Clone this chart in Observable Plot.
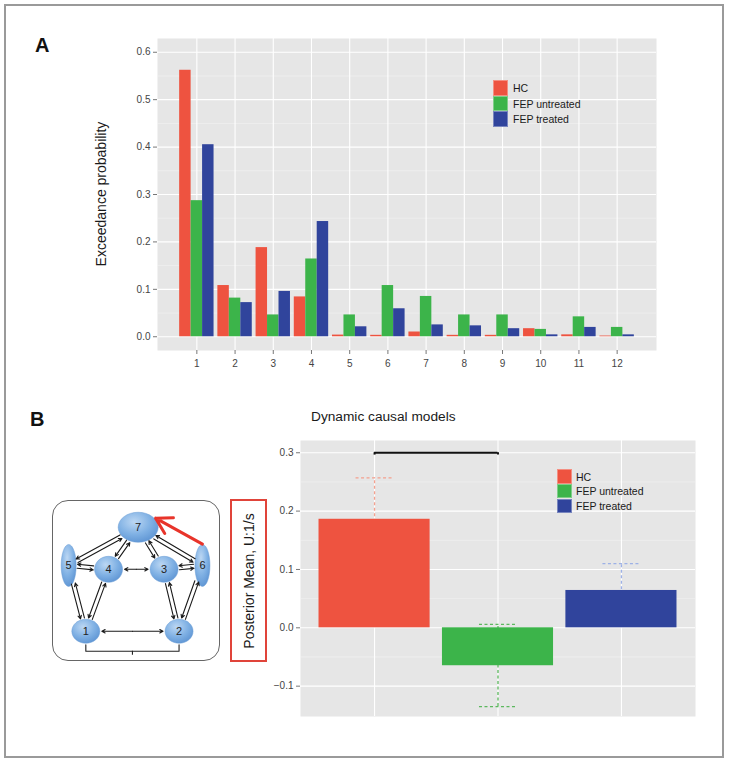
<!DOCTYPE html>
<html><head><meta charset="utf-8">
<script src="https://cdn.jsdelivr.net/npm/d3@7"></script>
<script src="https://cdn.jsdelivr.net/npm/@observablehq/plot@0.6"></script>
<style>
body{margin:0;background:#fff;font-family:"Liberation Sans",Arial,Helvetica,sans-serif;}
#fig{position:relative;width:730px;height:764px;overflow:hidden;background:#fff;}
.abs{position:absolute;white-space:nowrap;}
.key{position:absolute;box-sizing:border-box;border:1px solid rgba(255,255,255,0.35);}
.lt{position:absolute;font-size:10.5px;line-height:12px;color:#1a1a1a;white-space:nowrap;}
svg{overflow:visible;}
</style></head><body><div id="fig"></div>
<script>
// ---------- data ----------
const models = [1,2,3,4,5,6,7,8,9,10,11,12];
const groups = ["HC","FEP untreated","FEP treated"];
const groupColors = ["#ee5340","#3cb44a","#30449c"];
const errorColors = ["#f4a08e","#5cb85e","#9db1e6"];
const hcEP        = [0.562,0.108,0.188,0.084,0.0035,0.003,0.010,0.003,0.003,0.017,0.004,0.0015];
const untreatedEP = [0.287,0.0815,0.046,0.164,0.046,0.108,0.085,0.046,0.046,0.0155,0.042,0.0197];
const treatedEP   = [0.405,0.072,0.0956,0.243,0.021,0.059,0.025,0.023,0.017,0.004,0.0197,0.004];
const yTicksA = [0,0.1,0.2,0.3,0.4,0.5,0.6];

const dcmMean  = [0.186,-0.065,0.064];
const dcmUpper = [0.257,0.006,0.110];
const dcmLower = [0.115,-0.135,0.018];
const yTicksB = [-0.1,0,0.1,0.2,0.3];
const sigPairs = [{from:1,to:2,level:0.3}];

const nodeIds = [7,4,3,5,6,1,2];
const nodeX   = [50.9,33.3,66.3,9.6,89.1,19.8,75.2];
const nodeY   = [15.9,40.9,40.9,38.6,38.6,77.7,77.7];
const nodeKind= ["top","round","round","tall","tall","low","low"];
const reciprocal = [[7,5],[7,4],[7,3],[7,6],[5,4],[6,3],[5,1],[4,1],[3,2],[6,2]];
const lateral = [[4,3],[1,2]];
const modulated = [[6,7]];

// ---------- helpers ----------
const fig = document.getElementById("fig");
const FONT = '"Liberation Sans",Arial,Helvetica,sans-serif';
function place(el, left, top){ el.style.position="absolute"; el.style.left=left+"px"; el.style.top=top+"px"; fig.appendChild(el); return el; }
function text(str, left, top, css){ const d=document.createElement("div"); d.className="abs"; d.textContent=str; Object.assign(d.style, css||{}); return place(d,left,top); }
const fmt = d3.format(".1f");
const midpoints = a => d3.pairs(a).map(([p,q]) => (p+q)/2);

// outer frame
const frameDiv = document.createElement("div");
Object.assign(frameDiv.style,{width:"720px",height:"754px",border:"2px solid #9a9a9a",boxSizing:"border-box"});
place(frameDiv,4,4);

// ---------- panel A ----------
const seriesA = [hcEP, untreatedEP, treatedEP];
const tableA = models.flatMap((m,i) => groups.map((g,gi) => ({model:m, group:g, gi, value:seriesA[gi][i]})));
const plotA = Plot.plot({
  width:730, height:380,
  marginTop:38, marginBottom:30, marginLeft:157, marginRight:74,
  style:{fontFamily:FONT, fontSize:"10px", background:"none", overflow:"visible"},
  x:{domain:[-0.03,13.03]},
  y:{domain:[-0.029,0.629]},
  color:{domain:groups, range:groupColors},
  marks:[
    Plot.frame({fill:"#e6e6e6", stroke:null}),
    Plot.ruleY(midpoints(yTicksA), {stroke:"#f4f4f4", strokeWidth:0.6}),
    Plot.ruleY(yTicksA, {stroke:"#fff", strokeWidth:1.1}),
    Plot.ruleX(models, {stroke:"#fff", strokeWidth:1.1}),
    Plot.rectY(tableA, {x1:d=>d.model-0.45+d.gi*0.3, x2:d=>d.model-0.15+d.gi*0.3, y1:0, y2:"value", fill:"group"}),
    Plot.axisY(yTicksA, {tickSize:4, tickPadding:3, tickFormat:fmt, label:null, stroke:"#777", fill:"#444", fontSize:10}),
    Plot.axisX(models, {tickSize:4, tickPadding:5, label:null, stroke:"#777", fill:"#444", fontSize:10})
  ]
});
place(plotA,0,0);

// panel A labels & legend
text("A",35,34.7,{font:"bold 20px "+FONT, lineHeight:"20px", color:"#111"});
text("Exceedance probability",101-110,194-8,{width:"220px",textAlign:"center",fontSize:"14px",lineHeight:"16px",color:"#1a1a1a",transform:"rotate(-90deg)"});
groups.forEach((g,i)=>{
  const k=document.createElement("div"); k.className="key";
  Object.assign(k.style,{width:"15px",height:"15.5px",background:groupColors[i]});
  place(k,493,80+i*15.5);
  const t=document.createElement("div"); t.className="lt"; t.textContent=g;
  place(t,513,80+i*15.5+2);
});

// ---------- panel B ----------
const tableB = groups.map((g,i)=>({x:i+1, group:g, mean:dcmMean[i], lower:dcmLower[i], upper:dcmUpper[i]}));
const errMarks = tableB.flatMap((d,i)=>[
  Plot.ruleX([d], {x:"x", y1:"lower", y2:"upper", stroke:errorColors[i], strokeWidth:1.3, strokeDasharray:"3,2.5"}),
  Plot.ruleY([d], {x1:e=>e.x-0.15, x2:e=>e.x+0.15, y:"upper", stroke:errorColors[i], strokeWidth:1.3, strokeDasharray:"3,2.5"}),
  Plot.ruleY([d], {x1:e=>e.x-0.15, x2:e=>e.x+0.15, y:"lower", stroke:errorColors[i], strokeWidth:1.3, strokeDasharray:"3,2.5"})
]);
const plotB = Plot.plot({
  width:730, height:330,
  marginTop:40, marginBottom:14, marginLeft:300, marginRight:35,
  style:{fontFamily:FONT, fontSize:"10px", background:"none", overflow:"visible"},
  x:{domain:[0.4,3.6], axis:null},
  y:{domain:[-0.152,0.321]},
  color:{domain:groups, range:groupColors},
  marks:[
    Plot.frame({fill:"#e6e6e6", stroke:null}),
    Plot.ruleY(midpoints(yTicksB), {stroke:"#f4f4f4", strokeWidth:0.6}),
    Plot.ruleY(yTicksB, {stroke:"#fff", strokeWidth:1.1}),
    Plot.ruleX(tableB.map(d=>d.x), {stroke:"#fff", strokeWidth:1.1}),
    ...errMarks,
    Plot.rectY(tableB, {x1:d=>d.x-0.45, x2:d=>d.x+0.45, y1:0, y2:"mean", fill:"group"}),
    Plot.ruleY(sigPairs, {x1:"from", x2:"to", y:"level", stroke:"#111", strokeWidth:2}),
    Plot.ruleX(sigPairs.flatMap(s=>[{x:s.from,l:s.level},{x:s.to,l:s.level}]), {x:"x", y1:"l", y2:d=>d.l-0.004, stroke:"#111", strokeWidth:2}),
    Plot.axisY(yTicksB, {tickSize:4, tickPadding:3, tickFormat:fmt, label:null, stroke:"#777", fill:"#444", fontSize:10})
  ]
});
place(plotB,0,400);

text("B",30,409,{font:"bold 20px "+FONT, lineHeight:"20px", color:"#111"});
text("Dynamic causal models",311,408.7,{fontSize:"13.7px",lineHeight:"16px",color:"#1a1a1a"});
groups.forEach((g,i)=>{
  const k=document.createElement("div"); k.className="key";
  Object.assign(k.style,{width:"15px",height:"14.6px",background:groupColors[i]});
  place(k,556.7,469.3+i*14.6);
  const t=document.createElement("div"); t.className="lt"; t.textContent=g;
  place(t,576,469.3+i*14.6+1.5);
});
// y-label box
const yBox=document.createElement("div");
Object.assign(yBox.style,{width:"37px",height:"163px",border:"2px solid #e0443a",boxSizing:"border-box",background:"#fff"});
place(yBox,230,499);
text("Posterior Mean, U:1/s",248.5-90,580.5-8,{width:"180px",textAlign:"center",fontSize:"14px",lineHeight:"16px",color:"#1a1a1a",transform:"rotate(-90deg)"});

// ---------- network diagram ----------
const PX = 1.683; // px per diagram unit
const shapes = {top:{rx:20,ry:15}, round:{rx:14,ry:13}, tall:{rx:7.5,ry:21}, low:{rx:14,ry:12}};
const nodes = nodeIds.map((id,i)=>({id, x:nodeX[i], y:nodeY[i], kind:nodeKind[i]}));
const byId = Object.fromEntries(nodes.map(n=>[n.id,n]));
function rim(n,ux,uy){ const s=shapes[n.kind]; return 1/Math.hypot(ux/(s.rx/PX), uy/(s.ry/PX)); }
function seg(a,b,off,gap){
  const dx=b.x-a.x, dy=b.y-a.y, L=Math.hypot(dx,dy), ux=dx/L, uy=dy/L, px=-uy, py=ux;
  const da=rim(a,ux,uy)+gap, db=rim(b,ux,uy)+gap;
  return {x1:a.x+ux*da+px*off, y1:a.y+uy*da+py*off, x2:b.x-ux*db+px*off, y2:b.y-uy*db+py*off};
}
const arrows = [];
reciprocal.forEach(([p,q])=>{ const a=byId[p], b=byId[q]; arrows.push(seg(a,b,1.2,0.7)); arrows.push(seg(b,a,1.2,0.7)); });
lateral.forEach(([p,q])=>{ const a=byId[p], b=byId[q]; const s=seg(a,b,0,1.2); const mx=(s.x1+s.x2)/2, my=(s.y1+s.y2)/2;
  arrows.push({x1:mx,y1:my,x2:s.x1,y2:s.y1}); arrows.push({x1:mx,y1:my,x2:s.x2,y2:s.y2}); });
const redArrows = modulated.map(([p,q])=>{ const a=byId[p], b=byId[q]; const sa=shapes[a.kind], sb=shapes[b.kind]; const th=35*Math.PI/180;
  return {x1:a.x, y1:a.y-sa.ry/PX-0.2, x2:b.x+(sb.rx/PX)*Math.cos(th)+0.6, y2:b.y-(sb.ry/PX)*Math.sin(th)-0.3}; });
function ellipseSymbol(rx,ry){ const k=0.5523; return {draw(c){ c.moveTo(rx,0); c.bezierCurveTo(rx,ry*k,rx*k,ry,0,ry); c.bezierCurveTo(-rx*k,ry,-rx,ry*k,-rx,0); c.bezierCurveTo(-rx,-ry*k,-rx*k,-ry,0,-ry); c.bezierCurveTo(rx*k,-ry,rx,-ry*k,rx,0); c.closePath(); }}; }
const n1=byId[1], n2=byId[2];
const bTop=n1.y+shapes.low.ry/PX+0.9, bBot=bTop+3.9;
const bracket=[{x:n1.x,y:bTop},{x:n1.x,y:bBot},{x:n2.x,y:bBot},{x:n2.x,y:bTop}];

const boxDiv=document.createElement("div");
Object.assign(boxDiv.style,{width:"168.3px",height:"160.7px",border:"1px solid #666",borderRadius:"16px",boxSizing:"border-box"});
place(boxDiv,51.7,500);

const plotN = Plot.plot({
  width:168.3, height:160.7, margin:0,
  style:{fontFamily:FONT, fontSize:"11px", background:"none", overflow:"visible"},
  x:{domain:[0,100], axis:null},
  y:{domain:[0,95.5], reverse:true, axis:null},
  marks:[
    ...Object.keys(shapes).map(k=>Plot.dot(nodes.filter(n=>n.kind===k), {x:"x", y:"y", r:1, symbol:ellipseSymbol(shapes[k].rx,shapes[k].ry), fill:"url(#nodeGrad)", stroke:"#6a9bd4", strokeWidth:0.5})),
    Plot.arrow(arrows, {x1:"x1", y1:"y1", x2:"x2", y2:"y2", stroke:"#1a1a1a", strokeWidth:1.1, headLength:5, headAngle:55}),
    Plot.arrow(redArrows, {x1:"x1", y1:"y1", x2:"x2", y2:"y2", stroke:"#e8342a", strokeWidth:3, headLength:10, headAngle:60}),
    Plot.line(bracket, {x:"x", y:"y", stroke:"#222", strokeWidth:1.1}),
    Plot.ruleX([(n1.x+n2.x)/2], {y1:bBot, y2:bBot+2.4, stroke:"#222", strokeWidth:1.1}),
    Plot.text(nodes, {x:"x", y:"y", text:d=>String(d.id), fill:"#222", fontSize:11})
  ]
});
plotN.insertAdjacentHTML("afterbegin", '<defs><radialGradient id="nodeGrad" cx="40%" cy="32%" r="75%"><stop offset="0" stop-color="#bcd7f3"/><stop offset="0.55" stop-color="#80b1e4"/><stop offset="1" stop-color="#5b92d2"/></radialGradient></defs>');
place(plotN,51.7,500);
</script>
</body></html>
